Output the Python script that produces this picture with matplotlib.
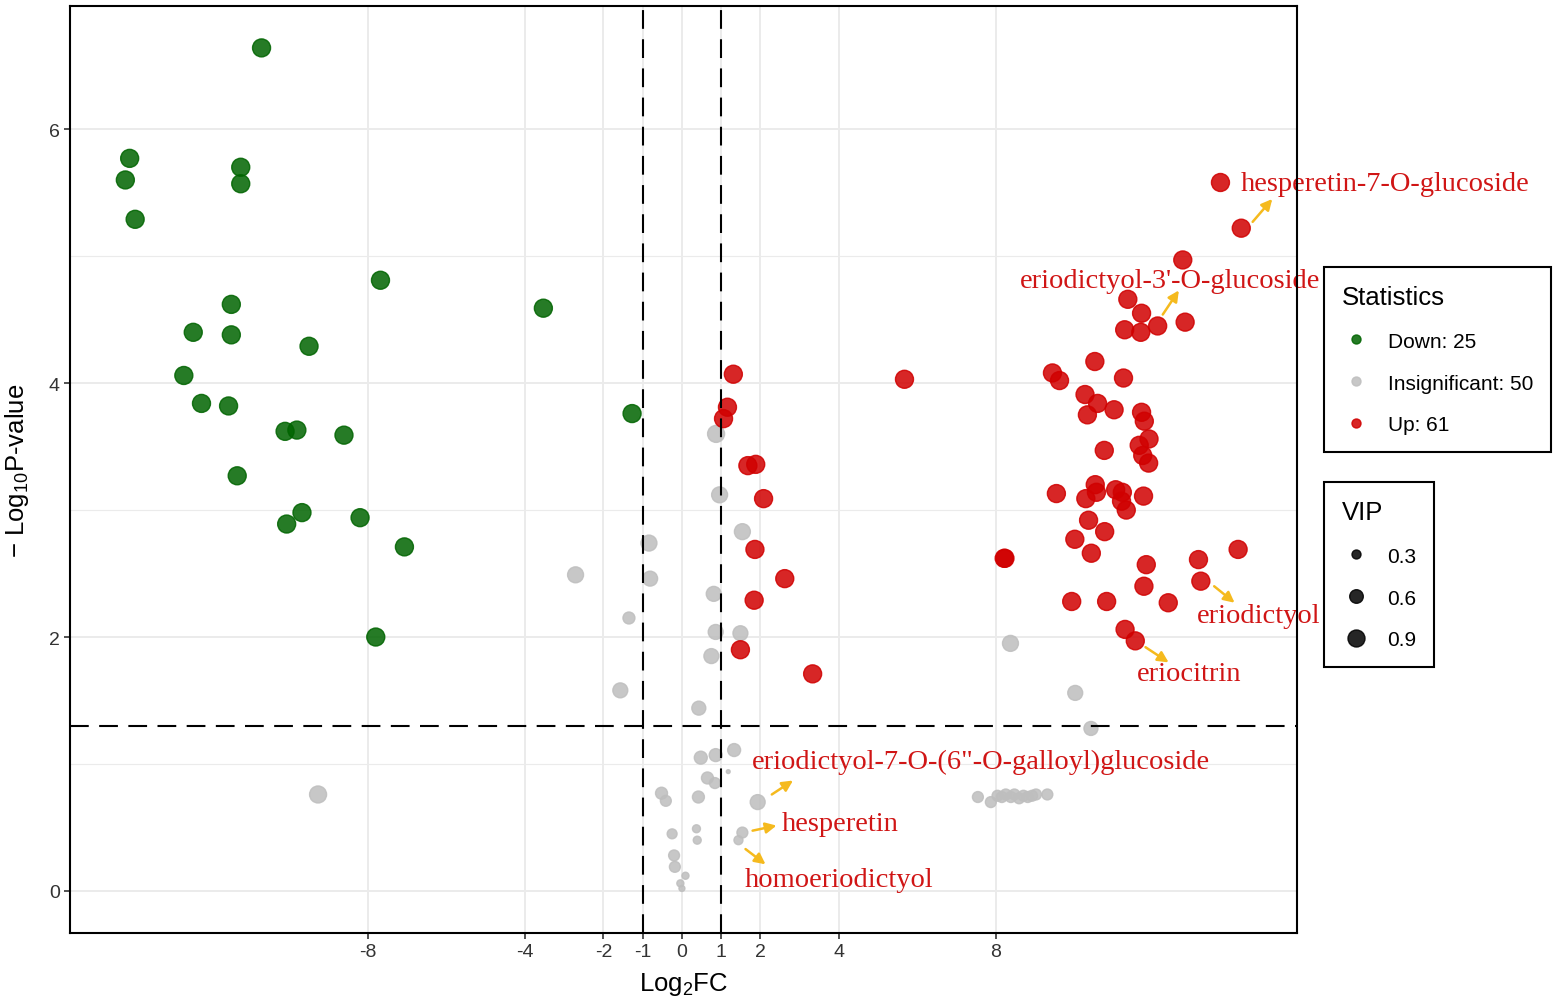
import matplotlib
matplotlib.use("Agg")
import matplotlib.pyplot as plt
from matplotlib.lines import Line2D
from matplotlib.colors import to_rgba
import numpy as np

plt.rcParams["font.family"] = ["Liberation Sans", "DejaVu Sans"]
plt.rcParams["mathtext.fontset"] = "custom"
plt.rcParams["mathtext.rm"] = "Liberation Sans"
plt.rcParams["mathtext.it"] = "Liberation Sans:italic"

# ---- data (log2FC, -log10 p, VIP) ----
down_fc = [-10.71, -14.07, -14.18, -11.24, -11.24, -13.93, -7.68, -3.53, -11.48,
           -12.45, -11.48, -9.50, -12.69, -12.24, -11.55, -1.27, -10.11, -9.81,
           -8.61, -11.33, -9.68, -10.07, -8.20, -7.07, -7.80]
down_p = [6.64, 5.77, 5.60, 5.70, 5.57, 5.29, 4.81, 4.59, 4.62,
          4.40, 4.38, 4.29, 4.06, 3.84, 3.82, 3.76, 3.62, 3.63,
          3.59, 3.27, 2.98, 2.89, 2.94, 2.71, 2.00]
down_vip = [1.0] * len(down_fc)

up_fc = [1.31, 1.16, 1.06, 1.68, 1.88, 2.08, 1.86, 2.62, 1.84, 1.49, 3.33,
         13.72, 14.25, 12.76, 11.36, 11.71, 11.28, 11.69, 12.12, 12.82, 5.67,
         10.52, 9.44, 9.62, 11.25, 10.27, 10.59, 10.33, 11.01, 11.71, 11.78,
         11.90, 11.65, 10.76, 11.74, 11.89, 9.54, 10.53, 10.56, 10.29, 11.05,
         11.22, 11.20, 11.32, 11.76, 10.36, 10.77, 10.01, 10.43, 8.23, 8.21,
         11.83, 13.16, 14.17, 11.77, 13.22, 9.93, 10.82, 12.39, 11.29, 11.55]
up_p = [4.07, 3.81, 3.72, 3.35, 3.36, 3.09, 2.69, 2.46, 2.29, 1.90, 1.71,
        5.58, 5.22, 4.97, 4.66, 4.55, 4.42, 4.40, 4.45, 4.48, 4.03,
        4.17, 4.08, 4.02, 4.04, 3.91, 3.84, 3.75, 3.79, 3.77, 3.70,
        3.56, 3.51, 3.47, 3.43, 3.37, 3.13, 3.20, 3.14, 3.09, 3.16,
        3.14, 3.07, 3.00, 3.11, 2.92, 2.83, 2.77, 2.66, 2.62, 2.62,
        2.57, 2.61, 2.69, 2.40, 2.44, 2.28, 2.28, 2.27, 2.06, 1.97]
up_vip = [1.0] * len(up_fc)

ns_fc = [0.87, 0.96, 1.54, -0.84, -2.71, -0.81, 0.81, -1.35, 0.86, 1.49, 0.75,
         -1.57, 0.43, 1.33, 0.48, 0.86, 1.18, 0.65, 0.84, -0.52, -0.41, 0.42,
         1.93, -0.25, 0.37, 0.39, 1.54, 1.44, -0.20, -0.18, 0.09, -0.04, 0.00,
         -9.27, 8.37, 10.02, 10.42,
         7.54, 7.87, 8.04, 8.15, 8.25, 8.38, 8.47, 8.59, 8.70, 8.81, 8.92, 9.02, 9.31]
ns_p = [3.60, 3.12, 2.83, 2.74, 2.49, 2.46, 2.34, 2.15, 2.04, 2.03, 1.85,
        1.58, 1.44, 1.11, 1.05, 1.07, 0.94, 0.89, 0.85, 0.77, 0.71, 0.74,
        0.70, 0.45, 0.49, 0.40, 0.46, 0.40, 0.28, 0.19, 0.12, 0.06, 0.02,
        0.76, 1.95, 1.56, 1.28,
        0.74, 0.70, 0.75, 0.74, 0.76, 0.74, 0.76, 0.73, 0.75, 0.74, 0.75, 0.76, 0.76]
ns_vip = [0.90, 0.80, 0.80, 0.80, 0.80, 0.71, 0.71, 0.48, 0.71, 0.71, 0.71,
          0.71, 0.63, 0.55, 0.55, 0.55, 0.11, 0.48, 0.41, 0.48, 0.41, 0.48,
          0.71, 0.35, 0.25, 0.25, 0.41, 0.30, 0.41, 0.41, 0.21, 0.21, 0.17,
          0.90, 0.80, 0.71, 0.63,
          0.41, 0.41, 0.41, 0.41, 0.41, 0.41, 0.41, 0.41, 0.41, 0.41, 0.41, 0.41, 0.41]

x_ticks = [-8, -4, -2, -1, 0, 1, 2, 4, 8]
y_ticks = [0, 2, 4, 6]
fc_cut = 1
p_cut = -np.log10(0.05)

labels = [
    # text, text x, text y, arrow start, arrow end
    ("hesperetin-7-O-glucoside", 14.24, 5.57, (14.54, 5.27), (15.04, 5.45)),
    ("eriodictyol-3'-O-glucoside", 8.61, 4.81, (12.25, 4.54), (12.66, 4.73)),
    ("eriodictyol", 13.12, 2.17, (13.56, 2.40), (14.08, 2.27)),
    ("eriocitrin", 11.59, 1.71, (11.81, 1.92), (12.40, 1.80)),
    ("eriodictyol-7-O-(6\"-O-galloyl)glucoside", 1.78, 1.02, (2.29, 0.76), (2.83, 0.87)),
    ("hesperetin", 2.55, 0.53, (1.80, 0.475), (2.41, 0.515)),
    ("homoeriodictyol", 1.60, 0.09, (1.62, 0.33), (2.13, 0.21)),
]

ALPHA = 0.85
col_down = to_rgba("#006400", ALPHA)
col_ns = to_rgba("#BEBEBE", ALPHA)
col_up = to_rgba("#D00000", ALPHA)
col_vip = to_rgba("black", ALPHA)


def vip_size(v):
    # marker area (pt^2), linear in VIP like ggplot's scale_size
    return 42 + (np.asarray(v) - 0.3) * 180


fig = plt.figure(figsize=(15.59, 10.04), dpi=100)
ax = fig.add_axes([70 / 1559, 1 - 934 / 1004, 1227 / 1559, 927 / 1004])

ax.set_xlim(-15.59, 15.67)
ax.set_ylim(-0.331, 6.97)

# grid
for xv in x_ticks:
    ax.axvline(xv, color="#EBEBEB", lw=1.4, zorder=0)
for yv in y_ticks:
    ax.axhline(yv, color="#EBEBEB", lw=1.4, zorder=0)
for yv in [1, 3, 5]:
    ax.axhline(yv, color="#EBEBEB", lw=0.8, zorder=0)

for fc, p, v, c in [(ns_fc, ns_p, ns_vip, col_ns),
                    (down_fc, down_p, down_vip, col_down),
                    (up_fc, up_p, up_vip, col_up)]:
    ax.scatter(fc, p, s=vip_size(v), facecolor=c, edgecolor=c, linewidths=1.0, zorder=2)

dash_kw = dict(color="black", lw=1.5, dashes=(9, 5), zorder=3)
ax.axvline(-fc_cut, **dash_kw)
ax.axvline(fc_cut, **dash_kw)
ax.axhline(p_cut, **dash_kw)

for txt, tx, ty, a0, a1 in labels:
    ax.annotate("", xy=a1, xytext=a0,
                arrowprops=dict(arrowstyle="-|>", color="#F5BA1E", lw=1.8,
                                mutation_scale=16, shrinkA=0, shrinkB=0),
                zorder=4)
    ax.text(tx, ty, txt, color="#D01515", fontsize=20.5, va="center", ha="left",
            family=["Liberation Serif", "DejaVu Serif"], clip_on=False, zorder=5)

ax.set_xticks(x_ticks)
ax.set_xticklabels([str(t) for t in x_ticks])
ax.set_yticks(y_ticks)
ax.tick_params(axis="both", length=4.3, width=1.2, color="#333333",
               labelsize=14, labelcolor="#333333", pad=3)
for sp in ax.spines.values():
    sp.set_linewidth(1.5)
    sp.set_color("black")
    sp.set_zorder(6)

ax.set_xlabel("Log$_2$FC", fontsize=18.5)
ax.set_ylabel("\u2212 Log$_{10}$P-value", fontsize=18.5)
ax.xaxis.set_label_coords(0.5, -0.055)
ax.xaxis.label.set_va("center")
ax.yaxis.set_label_coords(-0.0432, 0.5)
ax.yaxis.label.set_va("center")

# legends
def dot(c, ms):
    return Line2D([], [], ls="none", marker="o", markersize=ms,
                  markerfacecolor=c, markeredgecolor=c, markeredgewidth=1.0)


leg_kw = dict(loc="upper left", bbox_transform=fig.transFigure, frameon=True,
              fancybox=False, edgecolor="black", framealpha=1, fontsize=15,
              title_fontsize=18.5, alignment="left", borderpad=0.85,
              handlelength=1.4, handletextpad=0.8, labelspacing=1.1,
              borderaxespad=0)

stat_handles = [dot(col_down, 6.5), dot(col_ns, 6.5), dot(col_up, 6.5)]
stat_labels = [f"Down: {len(down_fc)}", f"Insignificant: {len(ns_fc)}", f"Up: {len(up_fc)}"]
leg1 = fig.legend(stat_handles, stat_labels, title="Statistics",
                  bbox_to_anchor=(1324 / 1559, 1 - 268 / 1004), **leg_kw)
leg1.get_frame().set_linewidth(1.5)

vip_breaks = [0.3, 0.6, 0.9]
vip_handles = [dot(col_vip, float(np.sqrt(vip_size(v)))) for v in vip_breaks]
leg2 = fig.legend(vip_handles, [str(v) for v in vip_breaks], title="VIP",
                  bbox_to_anchor=(1324 / 1559, 1 - 483 / 1004), **leg_kw)
leg2.get_frame().set_linewidth(1.5)

fig.savefig("out.png", dpi=100)
